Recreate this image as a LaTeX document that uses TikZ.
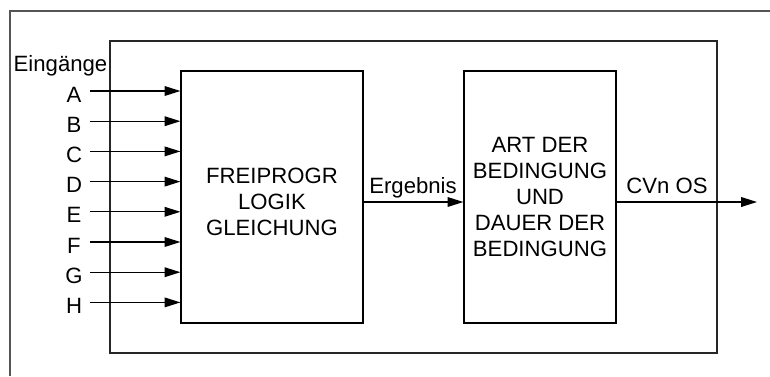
\documentclass[tikz,border=0pt]{standalone}
\usepackage{fontspec}
\setmainfont{Liberation Sans}
\usetikzlibrary{arrows.meta, positioning}
\definecolor{rahmengrau}{RGB}{85, 85, 85}

\tikzset{
  schrift/.style={font=\fontsize{12.6}{14.8}\selectfont},
  block/.style={draw=black, line width=0.7pt, inner sep=0pt, align=center, schrift},
  pfeil/.style={draw=black, line width=0.7pt, -{Triangle[length=9pt, width=5.5pt]}}
}

\begin{document}
\begin{tikzpicture}[x=0.02cm, y=-0.02cm]
            \useasboundingbox (0,0) rectangle (770,376);

            % outer frame (only left and top edge visible)
            \draw[rahmengrau, line width=1.1pt] (10,376) -- (10,11) -- (770,11);

            % inner frame
            \draw[black!85, line width=0.7pt] (110,41) rectangle (717,353);

            % logic block
            \node[block, minimum width=3.64cm, minimum height=5.04cm] (logik) at (272,197) {};
            \node[schrift, align=center] (logiktxt) at (272,202) {FREIPROGR\\LOGIK\\GLEICHUNG};

            % condition block
            \node[block, minimum width=3.04cm, minimum height=5.04cm] (bed) at (540,197)
                {ART DER\\BEDINGUNG\\UND\\DAUER DER\\BEDINGUNG};

            % inputs
            \node[schrift, anchor=base] (eing) at (60.5,71) {Eingänge};
            \foreach \name [count=\i from 0] in {A,B,C,D,E,F,G,H} {
                \node[schrift, anchor=base] (lbl\name) at (74,{91+30.2*\i+11}) {\name};
                \coordinate (in\name) at (90,{91+30.2*\i});
                \draw[pfeil] (in\name) -- (logik.west |- in\name);
            }

            % result between the blocks
            \coordinate (erg) at (363,202);
            \draw[pfeil] (logik.east |- erg) -- (bed.west |- erg);
            \node[schrift, anchor=base] (ergtxt) at (413,193) {Ergebnis};

            % output
            \coordinate (aus) at (757,202);
            \draw[pfeil] (bed.east |- aus) -- (aus);
            \node[schrift, anchor=base] (austxt) at (667,193) {CVn OS};
\end{tikzpicture}
\end{document}
